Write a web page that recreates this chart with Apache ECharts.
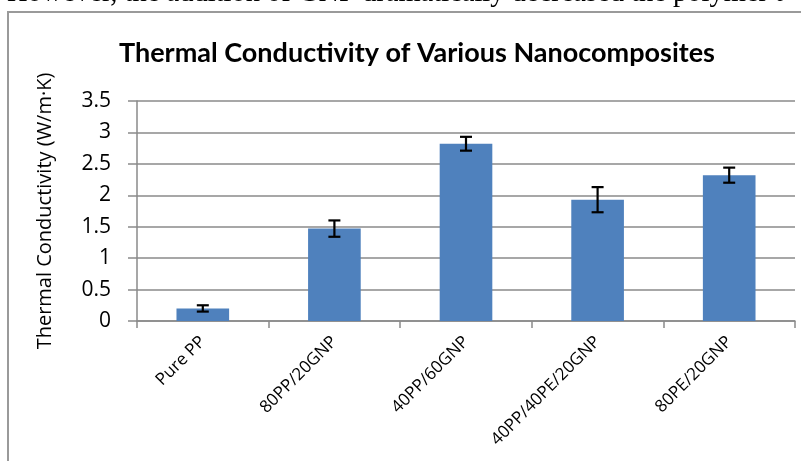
<!DOCTYPE html>
<html>
<head>
<meta charset="utf-8">
<script src="https://cdn.jsdelivr.net/npm/echarts@6/dist/echarts.min.js"></script>
<style>
html,body{margin:0;padding:0;background:#fff;}
#c{width:801px;height:461px;}
</style>
</head>
<body>
<div id="c"></div>
<script>
const sentence = 'However, the addition of GNP dramatically decreased the polymer t';
const chartTitle = 'Thermal Conductivity of Various Nanocomposites';
const yAxisTitle = 'Thermal Conductivity (W/m\u00B7K)';
const categories = ['Pure PP', '80PP/20GNP', '40PP/60GNP', '40PP/40PE/20GNP', '80PE/20GNP'];
const values = [0.20, 1.47, 2.82, 1.93, 2.32];
const errors = [0.05, 0.13, 0.11, 0.20, 0.12];
const yMin = 0, yMax = 3.5, yStep = 0.5;

const errData = categories.map((c, i) => [i, values[i], errors[i]]);

const chart = echarts.init(document.getElementById('c'), null, {renderer: 'canvas'});
chart.setOption({
  animation: false,
  backgroundColor: '#ffffff',
  graphic: [
    {type: 'rect', z: -10, shape: {x: 8, y: 12, width: 900, height: 600},
     style: {fill: '#fff', stroke: '#9a9a9a', lineWidth: 2}},
    {type: 'text', x: 7, y: 8, style: {text: sentence, font: '28.5px "Liberation Serif"', fill: '#000', verticalAlign: 'bottom'}}
  ],
  title: {
    text: chartTitle, left: 114, top: 35,
    textStyle: {fontFamily: 'Lato', fontWeight: 'bold', fontSize: 27, color: '#000'}
  },
  grid: {left: 137, right: 6, top: 101, bottom: 140, containLabel: false},
  xAxis: {
    type: 'category', data: categories,
    axisLine: {show: true, lineStyle: {color: '#8a8a8a', width: 1.5}},
    axisTick: {show: true, length: 7, lineStyle: {color: '#8a8a8a', width: 1.5}},
    axisLabel: {rotate: 45, fontFamily: 'Open Sans', fontSize: 17, color: '#000', margin: 18}
  },
  yAxis: {
    type: 'value', min: yMin, max: yMax, interval: yStep,
    name: yAxisTitle, nameLocation: 'middle', nameGap: 82,
    nameTextStyle: {fontFamily: 'Open Sans', fontSize: 20, color: '#000'},
    axisLine: {show: true, lineStyle: {color: '#8a8a8a', width: 1.5}},
    axisTick: {show: true, inside: false, length: 9, lineStyle: {color: '#8a8a8a', width: 1.5}},
    splitLine: {show: true, lineStyle: {color: '#8a8a8a', width: 1.5}},
    axisLabel: {fontFamily: 'Open Sans', fontSize: 21, color: '#000', margin: 26}
  },
  series: [
    {type: 'bar', data: values, barWidth: '40%', itemStyle: {color: '#4F81BD'}},
    {type: 'custom', data: errData, z: 10,
     renderItem: function (params, api) {
       const i = api.value(0), v = api.value(1), e = api.value(2);
       const pTop = api.coord([i, v + e]);
       const pBot = api.coord([i, v - e]);
       const x = pTop[0], half = 6;
       const st = {stroke: '#000', lineWidth: 2.2};
       return {type: 'group', children: [
         {type: 'line', shape: {x1: x, y1: pTop[1], x2: x, y2: pBot[1]}, style: st},
         {type: 'line', shape: {x1: x - half, y1: pTop[1], x2: x + half, y2: pTop[1]}, style: st},
         {type: 'line', shape: {x1: x - half, y1: pBot[1], x2: x + half, y2: pBot[1]}, style: st}
       ]};
     }}
  ]
});
</script>
</body>
</html>
